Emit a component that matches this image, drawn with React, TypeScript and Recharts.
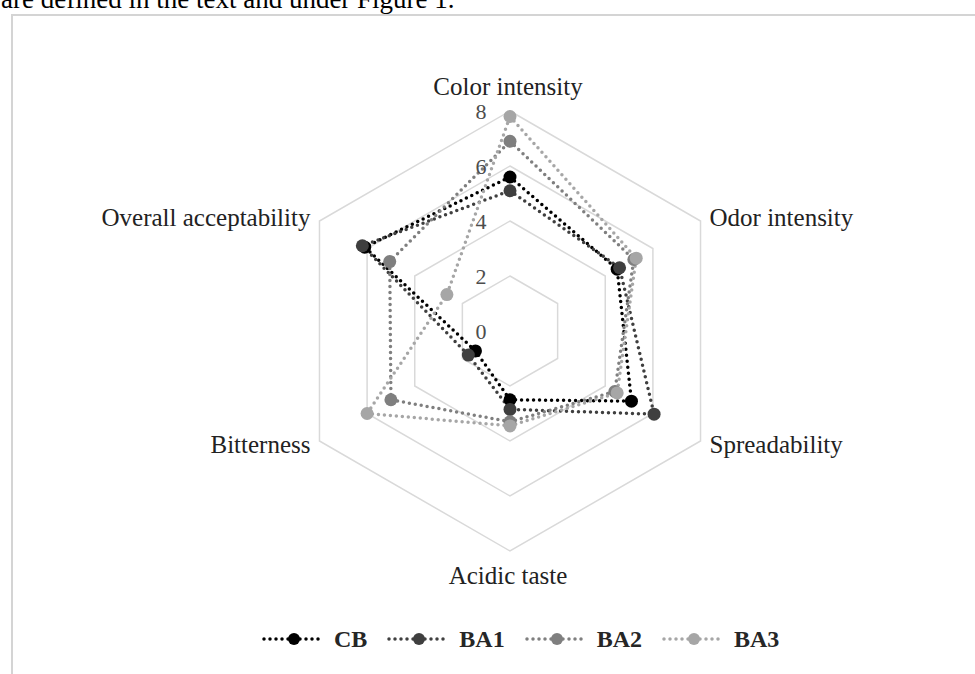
import React from 'react';
import { RadarChart, Radar, PolarGrid, PolarAngleAxis, PolarRadiusAxis, Legend } from 'recharts';

// sensory attributes, clockwise from the top
const attributes = ['Color intensity', 'Odor intensity', 'Spreadability', 'Acidic taste', 'Bitterness', 'Overall acceptability'];

const cb = [5.6, 4.5, 5.1, 2.5, 1.45, 6.1];
const ba1 = [5.1, 4.6, 6.05, 2.85, 1.75, 6.2];
const ba2 = [6.9, 5.2, 4.4, 3.3, 5.0, 5.05];
const ba3 = [7.8, 5.3, 4.5, 3.45, 6.0, 2.65];

const radiusTicks = [0, 2, 4, 6, 8];

const series = [
  { key: 'CB', color: '#000000' },
  { key: 'BA1', color: '#3f3f3f' },
  { key: 'BA2', color: '#7f7f7f' },
  { key: 'BA3', color: '#a6a6a6' },
];

const data = attributes.map((attr, i) => ({ attr, CB: cb[i], BA1: ba1[i], BA2: ba2[i], BA3: ba3[i] }));

const W = 975;
const H = 674;
const CX = 510;
const CY = 331;
const R = 220;
const SERIF = '"Liberation Serif", "Times New Roman", serif';

const AngleTick = (props: any) => {
  const { payload } = props;
  const a = (payload.coordinate * Math.PI) / 180;
  const vx = CX + R * Math.cos(a);
  const vy = CY - R * Math.sin(a);
  const c = Math.cos(a);
  const s = Math.sin(a);
  let anchor = 'middle';
  let dx = -2;
  let dy = 0;
  if (c > 0.1) { anchor = 'start'; dx = 9; }
  else if (c < -0.1) { anchor = 'end'; dx = -9; }
  if (s > 0.9) dy = -16;
  else if (s < -0.9) dy = 33;
  else if (s > 0) dy = 5;
  else dy = 12;
  return (
    <text x={vx + dx} y={vy + dy} textAnchor={anchor} fontFamily={SERIF} fontSize={25} fill="#222">
      {payload.value}
    </text>
  );
};

const RadiusTick = (props: any) => {
  const { x, y, payload } = props;
  return (
    <text x={x - 29} y={y + 8} textAnchor="middle" fontFamily={SERIF} fontSize={22} fill="#4d4d4d">
      {payload.value}
    </text>
  );
};

const makeDot = (color: string) => (p: any) => (
  <circle key={`dot-${p.index}`} cx={p.cx} cy={p.cy} r={6.5} fill={color} stroke="none" />
);

const LegendContent = () => (
  <div style={{ display: 'flex', alignItems: 'center', height: 24 }}>
    {series.map((s, i) => (
      <div key={s.key} style={{ display: 'flex', alignItems: 'center', marginRight: i < series.length - 1 ? 20 : 0 }}>
        <svg width={62} height={16}>
          <line x1={2} y1={8} x2={60} y2={8} stroke={s.color} strokeWidth={3.5} strokeDasharray="0 6" strokeLinecap="round" />
          <circle cx={32} cy={8} r={6} fill={s.color} />
        </svg>
        <span style={{ marginLeft: 10, fontFamily: SERIF, fontWeight: 'bold', fontSize: 24, lineHeight: '24px', color: '#262626' }}>
          {s.key}
        </span>
      </div>
    ))}
  </div>
);

export default function App() {
  return (
    <div style={{ position: 'absolute', left: 0, top: 0, width: W, height: H, overflow: 'hidden', background: '#fff' }}>
      <svg width={W} height={H} style={{ position: 'absolute', left: 0, top: 0 }}>
        <text x={1} y={8} fontFamily={SERIF} fontSize={27} fill="#000">are defined in the text and under Figure 1.</text>
        <rect x={12} y={15} width={W + 20} height={H + 20} fill="none" stroke="#d4d4d4" strokeWidth={2} />
      </svg>
      <div style={{ position: 'absolute', left: 0, top: 0 }}>
        <RadarChart width={W} height={H} data={data} cx={CX} cy={CY} outerRadius={R} margin={{ top: 0, right: 0, bottom: 0, left: 0 }}>
          <PolarGrid gridType="polygon" radialLines={false} stroke="#d9d9d9" strokeWidth={1.5} />
          <PolarAngleAxis dataKey="attr" tick={AngleTick} tickLine={false} axisLine={false} />
          <PolarRadiusAxis angle={90} domain={[0, 8]} ticks={radiusTicks} tickCount={5} tick={RadiusTick} axisLine={false} tickLine={false} />
          {series.map(s => (
            <Radar
              key={s.key}
              name={s.key}
              dataKey={s.key}
              stroke={s.color}
              strokeWidth={3.5}
              strokeDasharray="0 6"
              strokeLinecap="round"
              fill="none"
              fillOpacity={0}
              dot={makeDot(s.color)}
              isAnimationActive={false}
            />
          ))}
          <Legend content={LegendContent} wrapperStyle={{ position: 'absolute', left: 262, top: 627, width: 'auto', height: 24 }} />
        </RadarChart>
      </div>
    </div>
  );
}
